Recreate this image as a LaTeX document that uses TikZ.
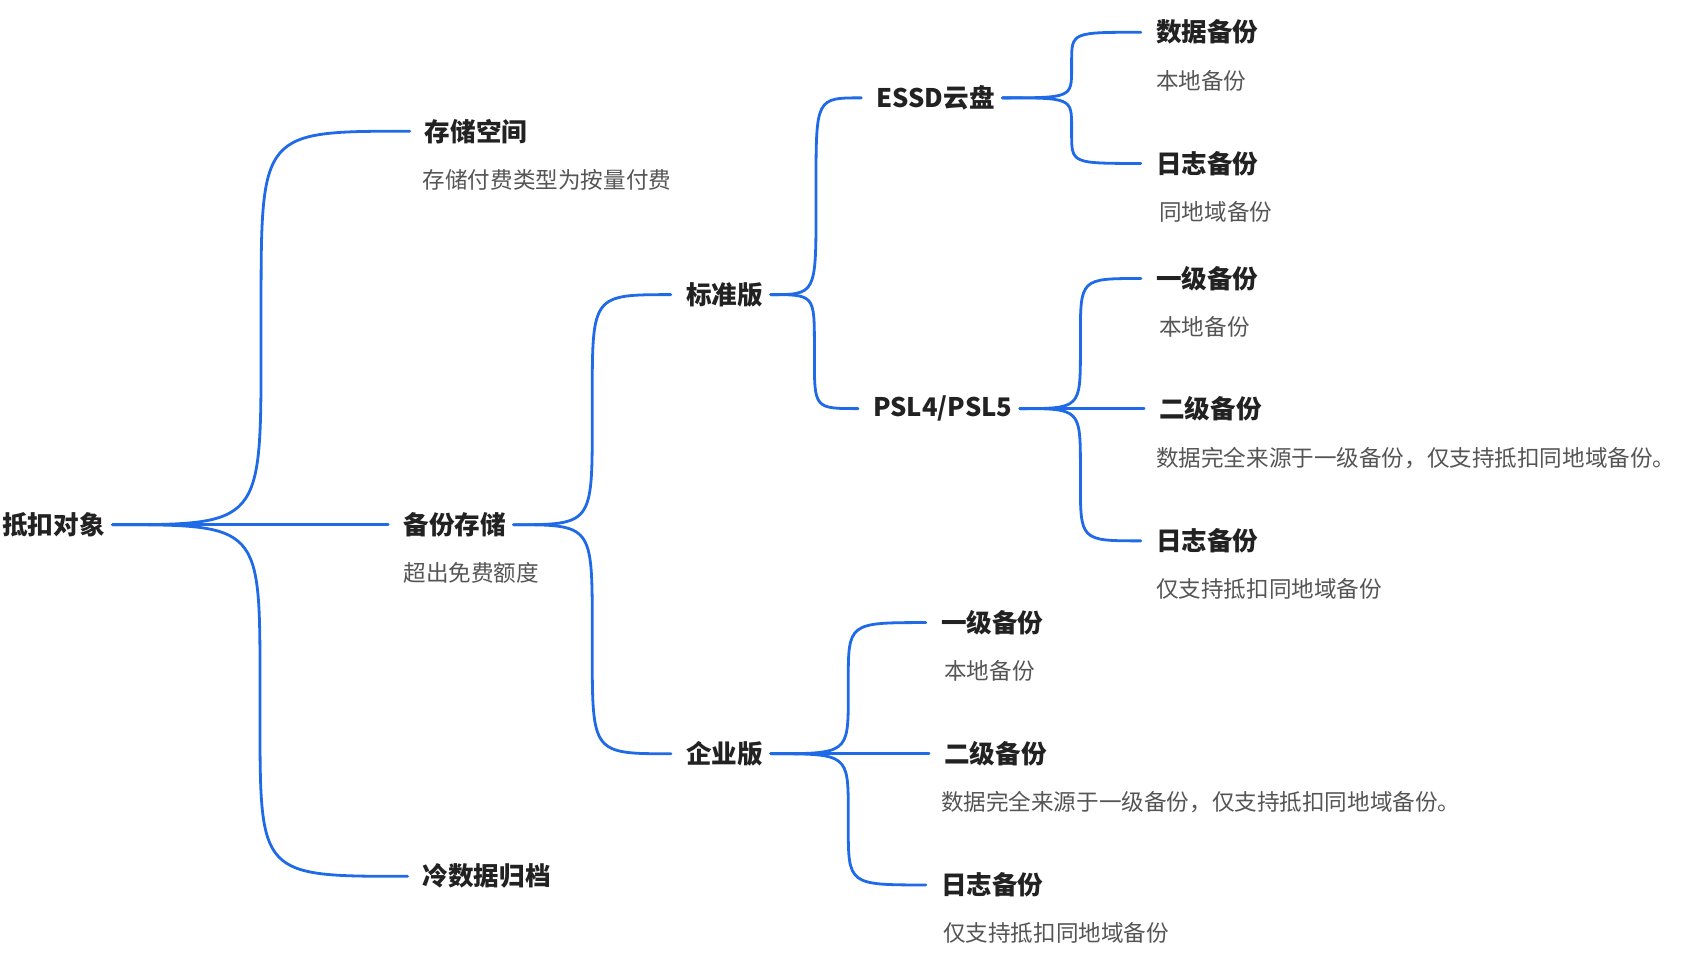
\documentclass[tikz,border=0pt]{standalone}
\usepackage{fontspec}
\setmainfont{Noto Sans CJK SC}
\usetikzlibrary{calc}
\definecolor{lineblue}{HTML}{1F6AE6}
\definecolor{tt}{HTML}{222222}
\definecolor{st}{HTML}{555555}
\tikzset{
 ttl/.style={anchor=west,inner xsep=0pt,inner ysep=2pt,font=\fontsize{23.8}{26}\selectfont\bfseries,text=tt},
 sub/.style={anchor=west,inner xsep=0pt,font=\fontsize{21}{24}\selectfont,text=st},
 br/.style={to path={let \p1=(\tikztostart),\p2=(\tikztotarget),\n1={(\x1+\x2)/2} in
   .. controls (\n1,\y1) and (\n1,\y1) .. (\n1,{\y1+0.45*(\y2-\y1)}) -- (\n1,{\y1+0.55*(\y2-\y1)}) .. controls (\n1,\y2) and (\n1,\y2) .. (\p2)}},
 ln/.style={draw=lineblue,line width=2.6pt,line cap=round}
}
\begin{document}
\begin{tikzpicture}[x=1pt,y=-1pt]
\useasboundingbox[fill=white] (0,0) rectangle (1568,898);
\node[ttl] (root) at (2,488) {抵扣对象};
\node[ttl] (cc) at (395,122) {存储空间};
\node[sub] (cc2) at (393,167) {存储付费类型为按量付费};
\node[ttl] (bf) at (375,488) {备份存储};
\node[sub] (bf2) at (375,533) {超出免费额度};
\node[ttl] (ld) at (393,815) {冷数据归档};
\node[ttl] (bz) at (638,274) {标准版};
\node[ttl] (qy) at (638,701) {企业版};
\node[ttl] (es) at (815,91) {ESSD云盘};
\node[ttl] (ps) at (812,380) {PSL4/PSL5};
\node[ttl] (e1) at (1075,30) {数据备份};
\node[sub] (e1s) at (1075,75) {本地备份};
\node[ttl] (e2) at (1075,152) {日志备份};
\node[sub] (e2s) at (1078,197) {同地域备份};
\node[ttl] (p1) at (1075,259) {一级备份};
\node[sub] (p1s) at (1078,304) {本地备份};
\node[ttl] (p2) at (1078,380) {二级备份};
\node[sub] (p2s) at (1075,426) {数据完全来源于一级备份，仅支持抵扣同地域备份。};
\node[ttl] (p3) at (1075,503) {日志备份};
\node[sub] (p3s) at (1075,548) {仅支持抵扣同地域备份};
\node[ttl] (q1) at (875,579) {一级备份};
\node[sub] (q1s) at (878,624) {本地备份};
\node[ttl] (q2) at (878,701) {二级备份};
\node[sub] (q2s) at (875,746) {数据完全来源于一级备份，仅支持抵扣同地域备份。};
\node[ttl] (q3) at (875,823) {日志备份};
\node[sub] (q3s) at (877,868) {仅支持抵扣同地域备份};
\foreach \a/\b in {root/cc,root/bf,root/ld,bf/bz,bf/qy,bz/es,bz/ps,es/e1,es/e2,ps/p1,ps/p2,ps/p3,qy/q1,qy/q2,qy/q3}
  \draw[ln] ([xshift=7pt]\a.east) to[br] ([xshift=-14pt]\b.west);
\end{tikzpicture}
\end{document}
